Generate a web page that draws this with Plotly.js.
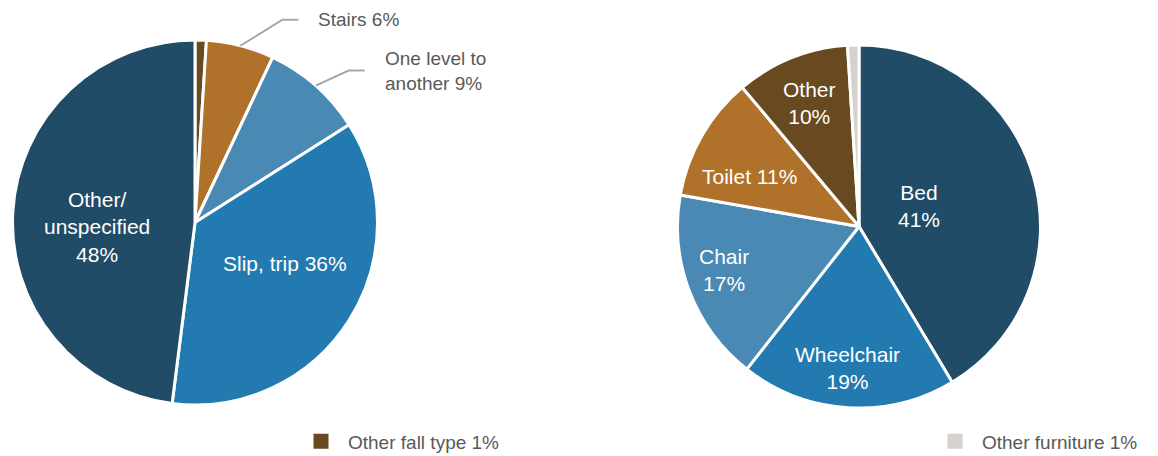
<!DOCTYPE html>
<html>
<head>
<meta charset="utf-8">
<script src="https://cdn.plot.ly/plotly-3.0.1.min.js"></script>
<style>
html,body{margin:0;padding:0;background:#fff;}
#chart{width:1158px;height:456px;}
</style>
</head>
<body>
<div id="chart"></div>
<script>
// ---- data ----
var fallTypeLabels = ["Other fall type", "Stairs", "One level to another", "Slip, trip", "Other/unspecified"];
var fallTypeValues = [1, 6, 9, 36, 48];
var fallTypeText = ["", "Stairs 6%", "One level to<br>another 9%", "Slip, trip 36%", "Other/<br>unspecified<br>48%"];

var furnitureLabels = ["Bed", "Wheelchair", "Chair", "Toilet", "Other", "Other furniture"];
var furnitureValues = [41, 19, 17, 11, 10, 1];
var furnitureText = ["Bed<br>41%", "Wheelchair<br>19%", "Chair<br>17%", "Toilet 11%", "Other<br>10%", ""];

var legendLabels = ["Other fall type 1%", "Other furniture 1%"];

// ---- styles / placement ----
var W = 1158, H = 456;
var FONT = "Liberation Sans, Arial, sans-serif";
var GRAY_TEXT = "#595959";
var leftColors = ["#694A20", "#B0722A", "#4A89B3", "#237AB1", "#204C68"];
var rightColors = ["#204C68", "#237AB1", "#4A89B3", "#B0722A", "#694A20", "#D5D2CE"];
var L = {cx: 195, cy: 222.5, r: 182.5};
var R = {cx: 859, cy: 226.5, r: 181.5};
// label placement per slice: inside (radial fraction, angle nudge deg) or leader line (elbow dx, dy)
var leftPlace = [null, {out: [42, -26]}, {out: [33, -15]}, {frac: 0.54, nudge: -8}, {frac: 0.54, nudge: -6}];
var rightPlace = [{frac: 0.35, nudge: -3}, {frac: 0.78, nudge: 1}, {frac: 0.78, nudge: 3},
                  {frac: 0.66, nudge: -5.5}, {frac: 0.73, nudge: 0}, null];
var labelDy = 0;
var tailLen = 16, textGap = 18;

function px(x) { return x / W; }
function py(y) { return 1 - y / H; }
function dom(p) {
  return {x: [px(p.cx - p.r), px(p.cx + p.r)], y: [py(p.cy + p.r), py(p.cy - p.r)]};
}
function midAngles(vals) {
  var tot = vals.reduce(function (a, b) { return a + b; }, 0), cum = 0;
  return vals.map(function (v) { var m = (cum + v / 2) / tot * 2 * Math.PI; cum += v; return m; });
}

function pieTrace(labels, values, colors, g) {
  return {
    type: "pie", labels: labels, values: values, textinfo: "none",
    sort: false, direction: "clockwise", rotation: 0,
    marker: {colors: colors, line: {color: "#fff", width: 3}},
    domain: dom(g), showlegend: false, hoverinfo: "skip"
  };
}

var traces = [
  pieTrace(fallTypeLabels, fallTypeValues, leftColors, L),
  pieTrace(furnitureLabels, furnitureValues, rightColors, R),
  {
    type: "scatter", mode: "markers", x: [null], y: [null], name: legendLabels[0],
    marker: {symbol: "square", size: 15, color: leftColors[0]}, legend: "legend", hoverinfo: "skip"
  },
  {
    type: "scatter", mode: "markers", x: [null], y: [null], name: legendLabels[1],
    marker: {symbol: "square", size: 15, color: rightColors[5]}, legend: "legend2", hoverinfo: "skip"
  }
];

var shapes = [], annotations = [];
function addLabels(values, texts, place, g) {
  var mids = midAngles(values);
  values.forEach(function (v, i) {
    var p = place[i];
    if (!p || !texts[i]) return;
    var th = mids[i];
    if (p.out) {
      var ax = g.cx + g.r * Math.sin(th), ay = g.cy - g.r * Math.cos(th);
      var ex = ax + p.out[0], ey = ay + p.out[1], tx = ex + tailLen;
      shapes.push({
        type: "path", xref: "paper", yref: "paper",
        path: "M " + px(ax) + "," + py(ay) + " L " + px(ex) + "," + py(ey) + " L " + px(tx) + "," + py(ey),
        line: {color: "#A6A6A6", width: 2}
      });
      annotations.push({
        xref: "paper", yref: "paper", x: px(tx + textGap), y: py(ey),
        xanchor: "left", yanchor: "middle", align: "left", showarrow: false,
        text: texts[i], font: {family: FONT, size: 19, color: GRAY_TEXT}
      });
    } else {
      var t = th + p.nudge * Math.PI / 180;
      var lx = g.cx + p.frac * g.r * Math.sin(t), ly = g.cy - p.frac * g.r * Math.cos(t) + labelDy;
      annotations.push({
        xref: "paper", yref: "paper", x: px(lx), y: py(ly),
        xanchor: "center", yanchor: "middle", align: "center", showarrow: false,
        text: texts[i], font: {family: FONT, size: 21, color: "#fff"}
      });
    }
  });
}
addLabels(fallTypeValues, fallTypeText, leftPlace, L);
addLabels(furnitureValues, furnitureText, rightPlace, R);

var legendFont = {family: FONT, size: 19, color: GRAY_TEXT};
var layout = {
  width: W, height: H,
  margin: {l: 0, r: 0, t: 0, b: 0, autoexpand: false},
  paper_bgcolor: "#fff", plot_bgcolor: "rgba(0,0,0,0)",
  xaxis: {visible: false}, yaxis: {visible: false},
  hovermode: false,
  shapes: shapes, annotations: annotations,
  legend: {x: px(294), y: py(441.5), xanchor: "left", yanchor: "middle", itemwidth: 44,
           font: legendFont, bgcolor: "rgba(0,0,0,0)"},
  legend2: {x: px(928), y: py(441.5), xanchor: "left", yanchor: "middle", itemwidth: 44,
            font: legendFont, bgcolor: "rgba(0,0,0,0)"}
};

Plotly.newPlot("chart", traces, layout, {displayModeBar: false, staticPlot: true});
</script>
</body>
</html>
